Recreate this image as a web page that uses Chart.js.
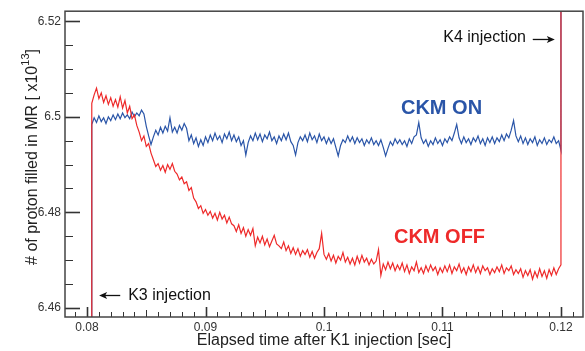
<!DOCTYPE html>
<html>
<head>
<meta charset="utf-8">
<script src="https://cdn.jsdelivr.net/npm/chart.js@4.4.1/dist/chart.umd.min.js"></script>
<style>
  html, body { margin: 0; padding: 0; background: #fff; }
  #wrap { width: 585px; height: 351px; }
</style>
</head>
<body>
<div id="wrap"><canvas id="beam"></canvas></div>
<script>
// samples start at K3 injection, one every 0.2 ms, last one at K4 injection
const k3Time = 0.0804;
const k4Time = 0.1200;
const sampleStep = 0.0002;

// protons in MR [x10^13]
const ckmOff = [
  6.5028, 6.5046, 6.5060, 6.5038, 6.5050, 6.5030, 6.5044, 6.5026, 6.5040, 6.5022,
  6.5036, 6.5020, 6.5042, 6.5018, 6.5034, 6.5008, 6.5022, 6.4996, 6.5004, 6.4982,
  6.4968, 6.4950, 6.4960, 6.4938, 6.4944, 6.4924, 6.4910, 6.4896, 6.4902, 6.4888,
  6.4898, 6.4884, 6.4900, 6.4890, 6.4902, 6.4886, 6.4880, 6.4868, 6.4874, 6.4860,
  6.4864, 6.4846, 6.4852, 6.4830, 6.4822, 6.4808, 6.4814, 6.4798, 6.4806, 6.4794,
  6.4802, 6.4788, 6.4798, 6.4784, 6.4800, 6.4786, 6.4794, 6.4778, 6.4790, 6.4776,
  6.4772, 6.4760, 6.4774, 6.4756, 6.4768, 6.4750, 6.4764, 6.4752, 6.4766, 6.4730,
  6.4748, 6.4736, 6.4750, 6.4732, 6.4744, 6.4728, 6.4740, 6.4752, 6.4734, 6.4730,
  6.4724, 6.4738, 6.4720, 6.4730, 6.4714, 6.4726, 6.4712, 6.4724, 6.4708, 6.4720,
  6.4712, 6.4722, 6.4706, 6.4718, 6.4704, 6.4716, 6.4724, 6.4756, 6.4712, 6.4702,
  6.4714, 6.4698, 6.4710, 6.4694, 6.4708, 6.4700, 6.4716, 6.4696, 6.4706, 6.4692,
  6.4704, 6.4690, 6.4708, 6.4694, 6.4710, 6.4696, 6.4704, 6.4690, 6.4702, 6.4692,
  6.4698, 6.4722, 6.4668, 6.4692, 6.4680, 6.4696, 6.4682, 6.4694, 6.4678, 6.4690,
  6.4680, 6.4694, 6.4676, 6.4690, 6.4672, 6.4686, 6.4678, 6.4696, 6.4674, 6.4684,
  6.4672, 6.4688, 6.4676, 6.4690, 6.4678, 6.4686, 6.4670, 6.4684, 6.4674, 6.4688,
  6.4676, 6.4690, 6.4672, 6.4686, 6.4678, 6.4692, 6.4674, 6.4684, 6.4670, 6.4686,
  6.4676, 6.4690, 6.4674, 6.4686, 6.4672, 6.4688, 6.4678, 6.4684, 6.4670, 6.4682,
  6.4674, 6.4686, 6.4676, 6.4690, 6.4672, 6.4684, 6.4678, 6.4688, 6.4670, 6.4680,
  6.4672, 6.4682, 6.4664, 6.4678, 6.4668, 6.4680, 6.4660, 6.4676, 6.4664, 6.4682,
  6.4666, 6.4678, 6.4662, 6.4680, 6.4668, 6.4684, 6.4670, 6.4682, 6.4690
];
const ckmOn = [
  6.4984, 6.4998, 6.4988, 6.5002, 6.4990, 6.4998, 6.4986, 6.5000, 6.4992, 6.5004,
  6.4994, 6.5006, 6.4996, 6.5008, 6.4998, 6.5004, 6.4996, 6.5010, 6.5000, 6.5008,
  6.5002, 6.5014, 6.5006, 6.4980, 6.4960, 6.4942, 6.4958, 6.4972, 6.4962, 6.4978,
  6.4966, 6.4980, 6.4970, 6.4998, 6.4968, 6.4978, 6.4966, 6.4982, 6.4972, 6.4986,
  6.4976, 6.4950, 6.4962, 6.4944, 6.4956, 6.4938, 6.4952, 6.4940, 6.4958, 6.4946,
  6.4962, 6.4950, 6.4966, 6.4952, 6.4960, 6.4946, 6.4964, 6.4954, 6.4968, 6.4950,
  6.4962, 6.4948, 6.4958, 6.4940, 6.4950, 6.4920, 6.4946, 6.4960, 6.4950, 6.4966,
  6.4952, 6.4964, 6.4948, 6.4962, 6.4954, 6.4968, 6.4950, 6.4958, 6.4944, 6.4960,
  6.4950, 6.4964, 6.4952, 6.4966, 6.4948, 6.4940, 6.4920, 6.4946, 6.4958, 6.4950,
  6.4962, 6.4948, 6.4966, 6.4952, 6.4960, 6.4946, 6.4964, 6.4950, 6.4958, 6.4944,
  6.4956, 6.4944, 6.4954, 6.4936, 6.4918, 6.4940, 6.4952, 6.4946, 6.4960, 6.4948,
  6.4958, 6.4944, 6.4956, 6.4946, 6.4954, 6.4940, 6.4952, 6.4944, 6.4956, 6.4942,
  6.4950, 6.4940, 6.4952, 6.4936, 6.4918, 6.4934, 6.4948, 6.4940, 6.4954, 6.4944,
  6.4952, 6.4942, 6.4950, 6.4938, 6.4954, 6.4944, 6.4958, 6.4962, 6.4988, 6.4956,
  6.4944, 6.4952, 6.4938, 6.4950, 6.4942, 6.4956, 6.4944, 6.4952, 6.4940, 6.4954,
  6.4946, 6.4958, 6.4950, 6.4966, 6.4984, 6.4956, 6.4944, 6.4958, 6.4946, 6.4954,
  6.4942, 6.4956, 6.4948, 6.4960, 6.4944, 6.4954, 6.4940, 6.4956, 6.4946, 6.4958,
  6.4944, 6.4956, 6.4948, 6.4962, 6.4950, 6.4964, 6.4956, 6.4972, 6.4992, 6.4960,
  6.4948, 6.4960, 6.4944, 6.4956, 6.4942, 6.4954, 6.4946, 6.4958, 6.4940, 6.4952,
  6.4944, 6.4956, 6.4942, 6.4952, 6.4946, 6.4958, 6.4944, 6.4950, 6.4930
];
// level just before K3 and just after K4 (both off the plotted range)
const beforeK3 = 6.40;
const afterK4 = 6.60;

const xTicks = [0.08, 0.09, 0.1, 0.11, 0.12];
const xTickLabels = ['0.08', '0.09', '0.1', '0.11', '0.12'];
const yTicks = [6.46, 6.48, 6.5, 6.52];
const yTickLabels = ['6.46', '6.48', '6.5', '6.52'];

const FONT = "'Liberation Sans', Arial, Helvetica, sans-serif";
const RED = '#ee2a2a';
const BLUE = '#2a55a8';

function toPoints(values) {
  const pts = [{ x: k3Time, y: beforeK3 }];
  values.forEach((v, i) => pts.push({ x: k3Time + i * sampleStep, y: v }));
  pts.push({ x: k4Time, y: afterK4 });
  return pts;
}

// frame, tick marks, y title with superscript, annotations
const decor = {
  id: 'decor',
  afterDatasetsDraw(chart) {
    const { ctx, chartArea: a, scales: { x, y } } = chart;
    ctx.save();

    // ticks along x, every 1 ms
    ctx.strokeStyle = '#333';
    for (let k = 79; k <= 121; k++) {
      const px = Math.round(x.getPixelForValue(k / 1000)) + 0.5;
      const major = k % 10 === 0;
      const len = major ? 10 : (k % 5 === 0 ? 7 : 5);
      ctx.lineWidth = major ? 1.6 : 1;
      ctx.beginPath();
      ctx.moveTo(px, a.bottom);
      ctx.lineTo(px, a.bottom - len);
      ctx.stroke();
    }
    // ticks along y, every 0.005
    for (let k = 0; k <= 12; k++) {
      const v = 6.46 + k * 0.005;
      const py = Math.round(y.getPixelForValue(v)) + 0.5;
      const major = k % 4 === 0;
      ctx.lineWidth = major ? 1.6 : 1;
      ctx.beginPath();
      ctx.moveTo(a.left, py);
      ctx.lineTo(a.left + (major ? 15 : 8), py);
      ctx.stroke();
    }

    // frame
    ctx.strokeStyle = '#444';
    ctx.lineWidth = 1.5;
    ctx.strokeRect(a.left, a.top, a.right - a.left, a.bottom - a.top);

    // y axis title
    ctx.fillStyle = '#222';
    ctx.translate(27, 157);
    ctx.rotate(-Math.PI / 2);
    const main = '# of proton filled in MR [ x10';
    ctx.font = '16px ' + FONT;
    const w1 = ctx.measureText(main).width;
    const w3 = ctx.measureText(']').width;
    ctx.font = '11px ' + FONT;
    const w2 = ctx.measureText('13').width;
    let sx = -(w1 + w2 + w3) / 2;
    ctx.textBaseline = 'middle';
    ctx.textAlign = 'left';
    ctx.font = '16px ' + FONT;
    ctx.fillText(main, sx, 6);
    ctx.font = '11px ' + FONT;
    ctx.fillText('13', sx + w1, -1);
    ctx.font = '16px ' + FONT;
    ctx.fillText(']', sx + w1 + w2, 6);
    ctx.setTransform(1, 0, 0, 1, 0, 0);

    // annotations
    ctx.textBaseline = 'middle';
    ctx.font = 'bold 20px ' + FONT;
    ctx.textAlign = 'center';
    ctx.fillStyle = BLUE;
    ctx.fillText('CKM ON', x.getPixelForValue(0.10992), y.getPixelForValue(6.5017));
    ctx.fillStyle = RED;
    ctx.fillText('CKM OFF', x.getPixelForValue(0.10975), y.getPixelForValue(6.4748));

    ctx.fillStyle = '#111';
    ctx.strokeStyle = '#111';
    ctx.font = '16px ' + FONT;
    const k4y = y.getPixelForValue(6.5166);
    ctx.textAlign = 'right';
    ctx.fillText('K4 injection', x.getPixelForValue(0.11705), k4y);
    const k3y = y.getPixelForValue(6.4626);
    ctx.textAlign = 'left';
    ctx.fillText('K3 injection', x.getPixelForValue(0.08347), k3y);

    const arrow = (x0, x1, yy) => {
      const dir = Math.sign(x1 - x0);
      ctx.lineWidth = 1.3;
      ctx.beginPath();
      ctx.moveTo(x0, yy);
      ctx.lineTo(x1 - dir * 4, yy);
      ctx.stroke();
      ctx.beginPath();
      ctx.moveTo(x1, yy);
      ctx.lineTo(x1 - dir * 8, yy - 3.5);
      ctx.lineTo(x1 - dir * 6, yy);
      ctx.lineTo(x1 - dir * 8, yy + 3.5);
      ctx.closePath();
      ctx.fill();
    };
    arrow(x.getPixelForValue(0.11762), x.getPixelForValue(0.11948), k4y + 2);
    arrow(x.getPixelForValue(0.08280), x.getPixelForValue(0.08102), k3y);

    ctx.restore();
  }
};

new Chart(document.getElementById('beam').getContext('2d'), {
  type: 'line',
  data: {
    datasets: [{
      label: 'CKM OFF',
      data: toPoints(ckmOff),
      borderColor: RED,
      borderWidth: 1.2,
      pointRadius: 0,
      tension: 0
    }, {
      label: 'CKM ON',
      data: toPoints(ckmOn),
      borderColor: BLUE,
      borderWidth: 1.2,
      pointRadius: 0,
      tension: 0
    }]
  },
  options: {
    responsive: true,
    maintainAspectRatio: false,
    animation: false,
    layout: { padding: { left: 0, right: 2, top: 10, bottom: 0 } },
    plugins: {
      legend: { display: false },
      tooltip: { enabled: false }
    },
    scales: {
      x: {
        type: 'linear',
        min: 0.07814,
        max: 0.12186,
        grid: { display: false, drawTicks: false },
        border: { display: false },
        afterBuildTicks: (s) => { s.ticks = xTicks.map(v => ({ value: v })); },
        afterFit: (s) => { s.height = 34; },
        ticks: {
          autoSkip: false,
          maxRotation: 0,
          padding: 3,
          color: '#333',
          font: { family: FONT, size: 12 },
          callback: (v) => xTickLabels[xTicks.indexOf(v)]
        },
        title: {
          display: true,
          text: 'Elapsed time after K1 injection [sec]',
          color: '#222',
          font: { family: FONT, size: 16 },
          padding: { top: 0, bottom: 1 }
        }
      },
      y: {
        min: 6.4581,
        max: 6.5221,
        grid: { display: false, drawTicks: false },
        border: { display: false },
        afterBuildTicks: (s) => { s.ticks = yTicks.map(v => ({ value: v })); },
        afterFit: (s) => { s.width = 65; },
        ticks: {
          padding: 4,
          color: '#333',
          font: { family: FONT, size: 12 },
          callback: (v) => yTickLabels[yTicks.indexOf(v)]
        }
      }
    }
  },
  plugins: [decor]
});
</script>
</body>
</html>
